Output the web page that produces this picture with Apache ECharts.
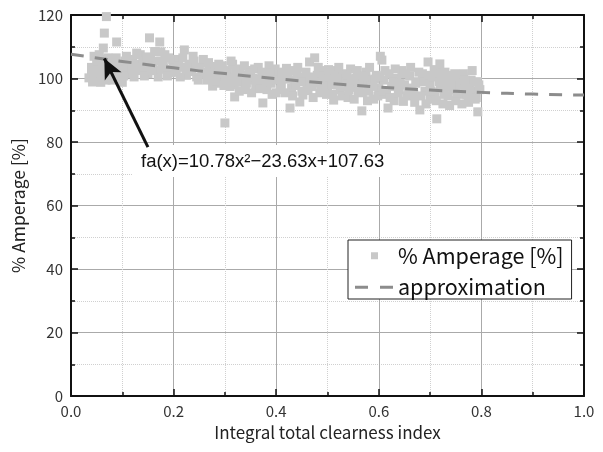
<!DOCTYPE html>
<html>
<head>
<meta charset="utf-8">
<script src="https://cdn.jsdelivr.net/npm/echarts@6/dist/echarts.min.js"></script>
<style>html,body{margin:0;padding:0;background:#fff}#c{width:603px;height:452px}</style>
</head>
<body>
<div id="c"></div>
<script>
// ---- data ----
var xTickLabels = ['0.0','0.2','0.4','0.6','0.8','1.0'];
var yTickLabels = ['0','20','40','60','80','100','120'];
var seriesNames = ['% Amperage [%]', 'approximation'];
var amperagePoints = [
 [0.035,100.2],[0.04,101.5],[0.045,99.8],[0.05,103.5],[0.05,101],[0.055,104.5],[0.06,102.5],[0.06,100],
 [0.065,106],[0.07,104],[0.07,101.5],[0.075,103],[0.08,99.5],[0.08,105.5],[0.085,102],[0.09,100.5],
 [0.095,104],[0.1,98.8],[0.1,102.8],[0.069,119.5],[0.065,114.3],[0.089,111.5],[0.063,109.6],[0.055,107.5],[0.045,107],
 [0.04,103.5],[0.05,105.5],[0.058,98.8],[0.062,104.8],[0.068,99.5],[0.072,106.5],[0.078,101],[0.083,103.8],
 [0.088,106.5],[0.092,102.8],[0.098,100.8],[0.042,98.9],
 [0.105,105.5],[0.11,103.5],[0.115,101.5],[0.12,106],[0.125,104.5],[0.13,102.5],[0.135,107.5],[0.14,105],
 [0.145,103],[0.15,101.5],[0.153,112.8],[0.155,106],[0.16,104],[0.165,102.5],[0.17,100.5],[0.173,111.5],
 [0.175,108.4],[0.18,105],[0.185,103],[0.19,106.5],[0.195,101.8],[0.2,104.2],
 [0.103,100.8],[0.108,107],[0.118,103],[0.123,100.5],[0.128,108],[0.138,103.5],[0.143,100.8],[0.148,106.8],
 [0.158,102.5],[0.163,108.5],[0.168,105.5],[0.178,103],[0.183,107.5],[0.188,100.8],[0.198,106],
 [0.205,102],[0.21,106],[0.215,103.5],[0.221,109],[0.225,101],[0.23,104.5],[0.235,102.2],[0.24,105.5],
 [0.245,100.5],[0.25,103.5],[0.255,101.5],[0.26,104.8],[0.265,99.5],[0.27,102.5],[0.275,100.2],[0.28,103.8],
 [0.285,98.5],[0.29,101.5],[0.295,104],[0.3,99.8],[0.3,86],[0.276,97.6],
 [0.208,104],[0.213,100.5],[0.218,106.5],[0.228,102.8],[0.238,107],[0.243,103.5],[0.248,99.5],[0.258,106],
 [0.262,102],[0.268,105],[0.278,101.5],[0.283,99.2],[0.288,104.5],[0.293,102.8],[0.298,97.8],
 [0.305,102.5],[0.31,97.5],[0.315,104.5],[0.319,94.2],[0.32,100.5],[0.325,98.8],[0.33,103],[0.335,101],
 [0.34,96.5],[0.345,99.5],[0.35,102.5],[0.355,100],[0.36,97.5],[0.365,103.5],[0.37,99],[0.374,92.3],
 [0.378,101.5],[0.382,96.5],[0.386,104],[0.39,98.5],[0.395,100.8],[0.4,95.5],
 [0.308,100],[0.312,105.5],[0.318,98],[0.322,102.5],[0.328,96],[0.332,100.2],[0.338,104],[0.342,98.5],
 [0.348,101.8],[0.352,95.5],[0.358,103],[0.362,99.8],[0.368,96.8],[0.372,102],[0.38,99],[0.388,101.8],
 [0.392,95],[0.398,103],
 [0.405,102],[0.41,98],[0.415,100],[0.42,103.2],[0.427,90.7],[0.43,97],[0.435,99.5],[0.44,101.5],
 [0.446,92.6],[0.45,96],[0.455,100.5],[0.46,98.5],[0.465,105.2],[0.47,97.5],[0.475,106.5],[0.48,101],
 [0.485,95.5],[0.49,99],[0.495,102.5],[0.5,97.8],
 [0.402,99.5],[0.408,96.5],[0.412,101.5],[0.418,95.5],[0.422,99.8],[0.428,102.5],[0.432,94.5],[0.438,97.8],
 [0.442,103.5],[0.448,99],[0.452,94.8],[0.458,102],[0.462,96.2],[0.468,100.5],[0.472,94],[0.478,98.5],
 [0.482,103.5],[0.488,97],[0.492,100.8],[0.498,95],
 [0.505,100.5],[0.51,95],[0.515,102.5],[0.52,98],[0.525,96.5],[0.53,101.5],[0.535,99],[0.54,94],
 [0.545,103],[0.55,97.2],[0.555,100],[0.56,95.8],[0.567,89.8],[0.57,98.5],[0.575,102],[0.58,96],
 [0.585,99.5],[0.59,93.5],[0.595,101],[0.6,97],[0.606,105.8],[0.603,107],
 [0.502,102.8],[0.508,98],[0.512,93.2],[0.518,100],[0.522,103.5],[0.528,94.5],[0.532,97.5],[0.538,101],
 [0.542,96.5],[0.548,99.8],[0.552,93.5],[0.558,102.5],[0.562,98],[0.568,95.5],[0.572,100.8],[0.578,93],
 [0.582,103.5],[0.588,97.5],[0.592,99.8],[0.598,94.5],
 [0.61,99.5],[0.615,95],[0.618,90.7],[0.62,101.5],[0.625,97.5],[0.63,93],[0.635,100],[0.64,96.5],
 [0.645,102.5],[0.65,98],[0.655,94.5],[0.66,100.8],[0.665,97],[0.67,92.5],[0.675,99],[0.68,90.1],
 [0.685,101.5],[0.69,96],[0.696,105.2],[0.7,98.5],[0.7,93.5],
 [0.602,100.5],[0.608,96],[0.612,102.5],[0.622,94],[0.628,99],[0.632,103],[0.638,95.5],[0.642,98.5],
 [0.648,92.8],[0.652,101.5],[0.658,96.5],[0.662,103.5],[0.668,95],[0.672,98.5],[0.678,102],[0.682,94.5],
 [0.688,99],[0.692,92],[0.698,101],
 [0.705,100.5],[0.71,95.5],[0.713,87.3],[0.715,102],[0.719,104.6],[0.72,97],[0.725,92],[0.73,99.5],
 [0.735,94.5],[0.74,101],[0.745,96.5],[0.75,93],[0.755,99],[0.76,95],[0.765,101.5],[0.77,97.5],
 [0.775,92.5],[0.78,99.5],[0.785,96],[0.79,94],[0.793,89.5],[0.795,98],[0.729,102],[0.764,100.5],
 [0.702,96],[0.708,102.8],[0.712,93],[0.718,99],[0.722,101.5],[0.728,95],[0.732,97.5],[0.738,91.5],
 [0.742,98.5],[0.748,101.5],[0.752,95.5],[0.758,97.8],[0.762,92],[0.768,99.5],[0.772,94.8],[0.778,97],
 [0.782,102.5],[0.788,93.5],[0.792,99],[0.797,96.5]
];
var approxX = [0, 0.1, 0.2, 0.3, 0.4, 0.5, 0.6, 0.7, 0.8, 0.9, 1.0];
var approxY = [107.63, 105.38, 103.35, 101.54, 99.95, 98.51, 97.33, 96.37, 95.63, 95.09, 94.78];
var arrowFrom = [0.15, 78.4];
var arrowTo = [0.065, 106.3];
var equationText = 'fa(x)=10.78x\u00b2\u221223.63x+107.63';

// ---- chart ----
var approxData = approxX.map(function (x, i) { return [x, approxY[i]]; });
var chart = echarts.init(document.getElementById('c'), null, {renderer: 'canvas'});
var labelFont = '"Noto Sans CJK JP", "Noto Sans", sans-serif';
function mkX(pos, showLabel) {
  return {
    type: 'value', position: pos, min: 0, max: 1, interval: 0.2,
    name: showLabel ? 'Integral total clearness index' : '',
    nameLocation: 'middle', nameGap: 22,
    nameTextStyle: {fontFamily: labelFont, fontSize: 17, color: '#222'},
    axisLine: {show: true, onZero: false, lineStyle: {color: '#111', width: 2}},
    axisTick: {show: true, inside: true, length: 7, lineStyle: {color: '#111', width: 1.5}},
    minorTick: {show: true, splitNumber: 2, length: 4, lineStyle: {color: '#111', width: 1.5}},
    axisLabel: {show: showLabel, margin: 8, fontFamily: labelFont, fontSize: 15, color: '#333',
      formatter: function (v) { return xTickLabels[Math.round(v / 0.2)]; }},
    splitLine: {show: showLabel, lineStyle: {color: '#aaa', width: 1}},
    minorSplitLine: {show: showLabel, lineStyle: {color: '#d0d0d0', width: 1, type: 'dotted'}}
  };
}
function mkY(pos, showLabel) {
  return {
    type: 'value', position: pos, min: 0, max: 120, interval: 20,
    name: showLabel ? '% Amperage [%]' : '',
    nameLocation: 'middle', nameGap: 41, nameRotate: 90,
    nameTextStyle: {fontFamily: labelFont, fontSize: 17.5, color: '#222'},
    axisLine: {show: true, onZero: false, lineStyle: {color: '#111', width: 2}},
    axisTick: {show: true, inside: true, length: 7, lineStyle: {color: '#111', width: 1.5}},
    minorTick: {show: true, splitNumber: 2, length: 4, lineStyle: {color: '#111', width: 1.5}},
    axisLabel: {show: showLabel, margin: 8, fontFamily: labelFont, fontSize: 15, color: '#333',
      formatter: function (v) { return yTickLabels[Math.round(v / 20)]; }},
    splitLine: {show: showLabel, lineStyle: {color: '#aaa', width: 1}},
    minorSplitLine: {show: showLabel, lineStyle: {color: '#d0d0d0', width: 1, type: 'dotted'}}
  };
}
chart.setOption({
  animation: false,
  backgroundColor: '#fff',
  grid: {left: 71, right: 19, top: 15, bottom: 56},
  xAxis: [mkX('bottom', true), mkX('top', false)],
  yAxis: [mkY('left', true), mkY('right', false)],
  legend: {
    orient: 'vertical', left: 348, top: 240,
    padding: [5, 8, 1, 5], itemGap: 10, itemWidth: 40, itemHeight: 14,
    backgroundColor: '#fff', borderColor: '#222', borderWidth: 1, borderRadius: 0,
    selectedMode: false,
    textStyle: {fontFamily: labelFont, fontSize: 21.5, color: '#111'},
    data: [
      {name: seriesNames[0], icon: 'path://M0,0L0,0M40,14L40,14M18,3.5h7v7h-7z'},
      {name: seriesNames[1], icon: 'path://M0,0L0,0M40,14L40,14M2,5.5h13v3h-13zM27,5.5h13v3h-13z'}
    ]
  },
  graphic: [
    {type: 'rect', z: 1, shape: {x: 133, y: 145, width: 267, height: 32}, style: {fill: '#fff'}},
    {type: 'text', z: 5, x: 141, y: 162,
     style: {text: equationText, fill: '#111', font: '18.5px "Liberation Sans", Arial, sans-serif', verticalAlign: 'middle'}}
  ],
  series: [
    {
      name: seriesNames[0], type: 'scatter', data: amperagePoints,
      symbol: 'rect', symbolSize: 9, itemStyle: {color: '#c8c8c8', opacity: 1}, z: 2
    },
    {
      name: seriesNames[1], type: 'line', data: approxData, smooth: true,
      showSymbol: false, symbol: 'none', z: 3,
      lineStyle: {color: '#8c8c8c', width: 3, type: [13, 11]},
      itemStyle: {color: '#8c8c8c'},
      markLine: {
        silent: true, symbol: ['none', 'arrow'], symbolSize: [14, 20],
        label: {show: false},
        lineStyle: {color: '#111', width: 3, type: 'solid'},
        data: [[{coord: arrowFrom}, {coord: arrowTo}]]
      }
    }
  ]
});
</script>
</body>
</html>
